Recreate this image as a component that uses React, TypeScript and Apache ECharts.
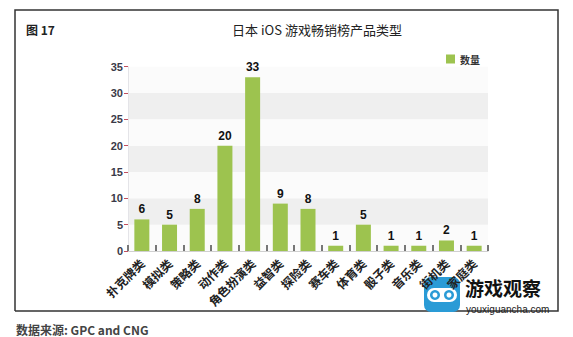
import React, { useEffect, useRef } from "react";
import * as echarts from "echarts";

const categories = ["扑克牌类", "模拟类", "策略类", "动作类", "角色扮演类", "益智类", "探险类", "赛车类", "体育类", "骰子类", "音乐类", "街机类", "家庭类"];
const counts = [6, 5, 8, 20, 33, 9, 8, 1, 5, 1, 1, 2, 1];
const yTicks = { min: 0, max: 35, interval: 5 };
const seriesName = "数量";
const titleText = "日本 iOS 游戏畅销榜产品类型";
const figureLabel = "图 17";
const sourceText = "数据来源: GPC and CNG";

export default function App() {
  const ref = useRef<HTMLDivElement>(null);
  useEffect(() => {
    if (!ref.current) return;
    const chart = echarts.init(ref.current, null, { renderer: "svg" });
    chart.setOption({
      animation: false,
      backgroundColor: "#ffffff",
      textStyle: { fontFamily: "'Liberation Sans', Arial, 'Noto Sans CJK SC', sans-serif" },
      grid: { left: 128, right: 85, top: 66.7, bottom: 86, containLabel: false },
      legend: {
        show: true,
        right: 88,
        top: 49,
        itemWidth: 9,
        itemHeight: 9,
        itemGap: 6,
        icon: "rect",
        textStyle: { fontSize: 10, fontWeight: "bold", color: "#333", fontFamily: "'Noto Sans CJK SC', sans-serif" },
        data: [seriesName],
      },
      xAxis: {
        type: "category",
        data: categories,
        boundaryGap: true,
        axisLine: { show: true, lineStyle: { color: "#d0d0d0", width: 1 } },
        axisTick: { show: true, inside: true, length: 6, lineStyle: { color: "#777", width: 2 } },
        axisLabel: {
          rotate: 45,
          interval: 0,
          margin: 10,
          fontSize: 12,
          fontWeight: "bold",
          color: "#222",
          fontFamily: "'Noto Sans CJK SC', sans-serif",
        },
      },
      yAxis: {
        type: "value",
        min: yTicks.min,
        max: yTicks.max,
        interval: yTicks.interval,
        axisLine: { show: true, lineStyle: { color: "#e4e4e8", width: 1 } },
        axisTick: { show: true, length: 4, lineStyle: { color: "#c05060", width: 1 } },
        axisLabel: {
          margin: 5,
          fontSize: 11,
          fontWeight: "bold",
          color: "#3a3a48",
          fontFamily: "'Liberation Sans Narrow', 'Liberation Sans', sans-serif",
        },
        splitLine: { show: false },
        splitArea: { show: true, areaStyle: { color: ["#fbfbfb", "#efefef"] } },
      },
      series: [
        {
          name: seriesName,
          type: "bar",
          data: counts,
          barWidth: 15,
          itemStyle: { color: "#9dc34f" },
          label: {
            show: true,
            position: "top",
            distance: 4,
            fontSize: 12,
            fontWeight: "bold",
            color: "#111",
            fontFamily: "'Liberation Sans', Arial, sans-serif",
          },
        },
      ],
      graphic: [
        {
          type: "polyline",
          silent: true,
          shape: { points: [[15, 311], [15, 10], [558, 10], [558, 311], [15, 311]] },
          style: { stroke: "#333", lineWidth: 1.5, fill: null },
        },
        {
          type: "text",
          left: 26,
          top: 23,
          style: { text: figureLabel, fontSize: 12, fontWeight: "bold", fill: "#222", fontFamily: "'Noto Sans CJK SC', sans-serif" },
        },
        {
          type: "text",
          x: 317,
          y: 29,
          style: { text: titleText, fontSize: 13, fill: "#222", align: "center", verticalAlign: "middle", fontFamily: "'Noto Sans CJK SC', sans-serif" },
        },
        {
          type: "text",
          x: 16,
          y: 329,
          style: { text: sourceText, fontSize: 12, fontWeight: "bold", fill: "#444", verticalAlign: "middle", fontFamily: "'Noto Sans CJK SC', sans-serif" },
        },
        {
          type: "group",
          children: [
            { type: "rect", shape: { x: 424, y: 277, width: 36, height: 35, r: 7 }, style: { fill: "#2a9bd6" } },
            { type: "rect", shape: { x: 427, y: 288, width: 30, height: 14, r: 7 }, style: { fill: "#ffffff" } },
            { type: "circle", shape: { cx: 435, cy: 295, r: 5 }, style: { fill: "#2a9bd6" } },
            { type: "circle", shape: { cx: 449, cy: 295, r: 5 }, style: { fill: "#2a9bd6" } },
            { type: "circle", shape: { cx: 435, cy: 295, r: 2.5 }, style: { fill: "#ffffff" } },
            { type: "circle", shape: { cx: 449, cy: 295, r: 2.5 }, style: { fill: "#ffffff" } },
            {
              type: "text",
              x: 465,
              y: 287,
              style: { text: "游戏观察", fontSize: 19, fontWeight: "bold", fill: "#111", verticalAlign: "middle", lineHeight: 19, fontFamily: "'Noto Sans CJK SC', sans-serif" },
            },
            {
              type: "text",
              x: 466,
              y: 309,
              style: { text: "youxiguancha.com", fontSize: 10, fill: "#222", verticalAlign: "middle", lineHeight: 10, fontFamily: "'Liberation Sans', Arial, sans-serif" },
            },
          ],
        },
      ],
    });
    return () => chart.dispose();
  }, []);
  return <div ref={ref} style={{ position: "fixed", left: 0, top: 0, width: 573, height: 337 }} />;
}
